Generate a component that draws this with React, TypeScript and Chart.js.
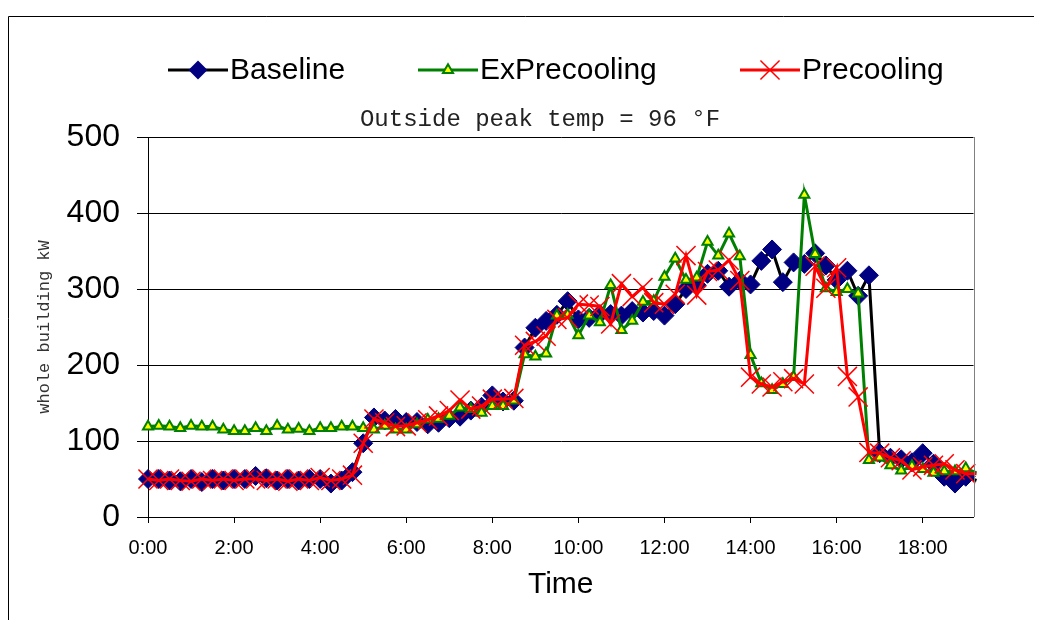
import React, { useEffect, useRef } from 'react';
import { Chart, registerables } from 'chart.js';

Chart.register(...registerables);

// ---- data ----
const times = [
  '0:00', '0:15', '0:30', '0:45', '1:00', '1:15', '1:30', '1:45',
  '2:00', '2:15', '2:30', '2:45', '3:00', '3:15', '3:30', '3:45',
  '4:00', '4:15', '4:30', '4:45', '5:00', '5:15', '5:30', '5:45',
  '6:00', '6:15', '6:30', '6:45', '7:00', '7:15', '7:30', '7:45',
  '8:00', '8:15', '8:30', '8:45', '9:00', '9:15', '9:30', '9:45',
  '10:00', '10:15', '10:30', '10:45', '11:00', '11:15', '11:30', '11:45',
  '12:00', '12:15', '12:30', '12:45', '13:00', '13:15', '13:30', '13:45',
  '14:00', '14:15', '14:30', '14:45', '15:00', '15:15', '15:30', '15:45',
  '16:00', '16:15', '16:30', '16:45', '17:00', '17:15', '17:30', '17:45',
  '18:00', '18:15', '18:30', '18:45', '19:00', '19:15',
];

const baseline = [
  50, 50, 48, 47, 50, 46, 50, 48, 50, 50, 54, 51, 48, 50, 48, 50, 50, 44, 48, 59,
  97, 131, 127, 129, 125, 125, 122, 124, 130, 132, 140, 145, 160, 152, 153, 223, 249, 258, 266, 284,
  260, 262, 267, 267, 265, 271, 269, 271, 265, 280, 300, 305, 320, 324, 303, 311, 306, 337, 352, 309,
  335, 333, 347, 331, 312, 324, 291, 318, 84, 78, 76, 72, 84, 70, 53, 44, 53, 48,
];

const exPrecooling = [
  119, 120, 119, 117, 120, 119, 119, 115, 113, 113, 117, 113, 120, 115, 116, 113, 117, 117, 119, 119,
  117, 115, 120, 115, 115, 122, 128, 129, 133, 144, 142, 137, 146, 146, 153, 214, 211, 215, 265, 266,
  239, 265, 256, 305, 246, 258, 283, 284, 316, 340, 312, 315, 362, 344, 373, 343, 213, 176, 167, 175,
  184, 424, 346, 301, 296, 300, 294, 75, 78, 68, 61, 67, 63, 58, 60, 60, 64, 58,
];

const precooling = [
  50, 48, 50, 48, 47, 50, 48, 50, 48, 50, 50, 48, 50, 47, 50, 48, 52, 48, 50, 55,
  97, 129, 124, 119, 120, 124, 128, 133, 140, 154, 142, 146, 155, 155, 156, 226, 231, 238, 260, 262,
  280, 279, 277, 254, 307, 290, 302, 282, 280, 293, 344, 292, 323, 325, 338, 311, 184, 175, 171, 178,
  182, 175, 330, 301, 328, 185, 158, 85, 84, 78, 74, 62, 66, 68, 70, 62, 57, 57,
];

const xTickLabels = ['0:00', '2:00', '4:00', '6:00', '8:00', '10:00', '12:00', '14:00', '16:00', '18:00'];
const seriesNames = ['Baseline', 'ExPrecooling', 'Precooling'];
const chartTitle = 'Outside peak temp = 96 °F';
const yAxisTitle = 'whole building kW';
const xAxisTitle = 'Time';

// ---- styling ----
const SANS = '"Liberation Sans", Arial, sans-serif';
const MONO = '"Liberation Mono", "Courier New", monospace';
const NAVY = '#000080';
const GREEN = '#008000';
const RED = '#FF0000';
const YELLOW = '#FFFF00';
const R_DIAMOND = 9.5;
const R_TRI = 5.8;
const R_CROSS = 13.5;
const CANVAS_W = 1034;
const CANVAS_H = 604;

const toHours = (t: string) => {
  const [h, m] = t.split(':').map(Number);
  return h + m / 60;
};

function drawMarker(ctx: CanvasRenderingContext2D, kind: number, x: number, y: number) {
  ctx.save();
  if (kind === 0) {
    const r = R_DIAMOND;
    ctx.beginPath();
    ctx.moveTo(x - r, y);
    ctx.lineTo(x, y - r);
    ctx.lineTo(x + r, y);
    ctx.lineTo(x, y + r);
    ctx.closePath();
    ctx.fillStyle = NAVY;
    ctx.fill();
  } else if (kind === 1) {
    const r = R_TRI;
    ctx.beginPath();
    ctx.moveTo(x, y - r);
    ctx.lineTo(x + 0.866 * r, y + 0.5 * r);
    ctx.lineTo(x - 0.866 * r, y + 0.5 * r);
    ctx.closePath();
    ctx.fillStyle = YELLOW;
    ctx.fill();
    ctx.strokeStyle = GREEN;
    ctx.lineWidth = 2;
    ctx.stroke();
  } else {
    const o = R_CROSS * Math.SQRT1_2;
    ctx.beginPath();
    ctx.moveTo(x - o, y - o);
    ctx.lineTo(x + o, y + o);
    ctx.moveTo(x + o, y - o);
    ctx.lineTo(x - o, y + o);
    ctx.strokeStyle = RED;
    ctx.lineWidth = 1.5;
    ctx.stroke();
  }
  ctx.restore();
}

const decorPlugin = {
  id: 'decor',
  afterDraw(chart: any) {
    const { ctx, chartArea } = chart;
    ctx.save();
    // outer frame (left and top visible)
    ctx.strokeStyle = '#000';
    ctx.lineWidth = 1;
    ctx.beginPath();
    ctx.moveTo(0.5, chart.height);
    ctx.lineTo(0.5, 0.5);
    ctx.lineTo(chart.width, 0.5);
    ctx.stroke();
    // plot area right border
    const rx = Math.round(chartArea.right) + 0.5;
    ctx.strokeStyle = '#808080';
    ctx.beginPath();
    ctx.moveTo(rx, chartArea.top);
    ctx.lineTo(rx, chartArea.bottom);
    ctx.stroke();
    // title
    ctx.font = `24px ${MONO}`;
    ctx.fillStyle = '#222';
    ctx.textAlign = 'center';
    ctx.textBaseline = 'middle';
    ctx.fillText(chartTitle, 532, 104);
    // legend
    const lineColors = ['#000', GREEN, RED];
    const starts = [160, 410, 732];
    const ly = 54;
    ctx.font = `30px ${SANS}`;
    ctx.textAlign = 'left';
    seriesNames.forEach((name, k) => {
      const x0 = starts[k];
      ctx.strokeStyle = lineColors[k];
      ctx.lineWidth = 3;
      ctx.beginPath();
      ctx.moveTo(x0, ly);
      ctx.lineTo(x0 + 60, ly);
      ctx.stroke();
      drawMarker(ctx, k, x0 + 30, ly);
      ctx.fillStyle = '#000';
      ctx.fillText(name, x0 + 62, ly + 1);
    });
    ctx.restore();
  },
};

export default function App() {
  const ref = useRef<HTMLCanvasElement>(null);

  useEffect(() => {
    const canvas = ref.current;
    if (!canvas) return;
    const xs = times.map(toHours);
    const mk = (vals: number[]) => vals.map((v, i) => ({ x: xs[i], y: v }));
    const lastIdx = times.length - 1;
    const rad = (r: number) => (c: any) => (c.dataIndex === lastIdx ? 0 : r);

    Chart.defaults.font.family = SANS;

    const chart = new Chart(canvas, {
      type: 'line',
      data: {
        datasets: [
          {
            label: seriesNames[0],
            data: mk(baseline),
            borderColor: '#000',
            borderWidth: 3,
            pointStyle: 'rectRot',
            pointRadius: rad(R_DIAMOND),
            pointBackgroundColor: NAVY,
            pointBorderColor: NAVY,
            pointBorderWidth: 1,
            order: 3,
            clip: false,
            tension: 0,
          },
          {
            label: seriesNames[1],
            data: mk(exPrecooling),
            borderColor: GREEN,
            borderWidth: 3,
            pointStyle: 'triangle',
            pointRadius: rad(R_TRI),
            pointBackgroundColor: YELLOW,
            pointBorderColor: GREEN,
            pointBorderWidth: 2,
            order: 2,
            clip: false,
            tension: 0,
          },
          {
            label: seriesNames[2],
            data: mk(precooling),
            borderColor: RED,
            borderWidth: 3,
            pointStyle: 'crossRot',
            pointRadius: rad(R_CROSS),
            pointBackgroundColor: RED,
            pointBorderColor: RED,
            pointBorderWidth: 1.5,
            order: 1,
            clip: false,
            tension: 0,
          },
        ],
      },
      options: {
        responsive: false,
        animation: false,
        devicePixelRatio: 1,
        layout: { padding: { top: 121, right: CANVAS_W - 965.5, bottom: 0, left: 0 } },
        plugins: {
          legend: { display: false },
          title: { display: false },
          tooltip: { enabled: false },
        },
        scales: {
          x: {
            type: 'linear',
            min: 0,
            max: 19.18,
            afterFit: (s: any) => {
              s.height = 103;
            },
            ticks: {
              stepSize: 2,
              includeBounds: false,
              autoSkip: false,
              maxRotation: 0,
              padding: 13,
              color: '#000',
              font: { family: SANS, size: 20 },
              callback: (v: any) => xTickLabels[Math.round(Number(v) / 2)] ?? '',
            },
            grid: { drawOnChartArea: false, drawTicks: true, tickLength: 6, color: '#000' },
            border: { display: true, color: '#000', width: 1 },
            title: {
              display: true,
              text: xAxisTitle,
              color: '#000',
              font: { family: SANS, size: 30 },
              padding: { top: 0, bottom: 17 },
            },
          },
          y: {
            min: 0,
            max: 500,
            afterFit: (s: any) => {
              s.width = 140;
            },
            ticks: {
              stepSize: 100,
              padding: 17,
              color: '#000',
              font: { family: SANS, size: 32 },
            },
            grid: { color: '#000', tickLength: 11, drawTicks: true, lineWidth: 1 },
            border: { display: true, color: '#000', width: 1 },
            title: {
              display: true,
              text: yAxisTitle,
              color: '#333',
              font: { family: MONO, size: 17 },
              padding: { top: 26, bottom: 0 },
            },
          },
        },
      } as any,
      plugins: [decorPlugin],
    });

    return () => chart.destroy();
  }, []);

  return (
    <div style={{ paddingTop: 8, width: CANVAS_W, height: CANVAS_H, overflow: 'hidden' }}>
      <canvas
        ref={ref}
        width={CANVAS_W}
        height={CANVAS_H}
        style={{ display: 'block', width: CANVAS_W, height: CANVAS_H }}
      />
    </div>
  );
}
